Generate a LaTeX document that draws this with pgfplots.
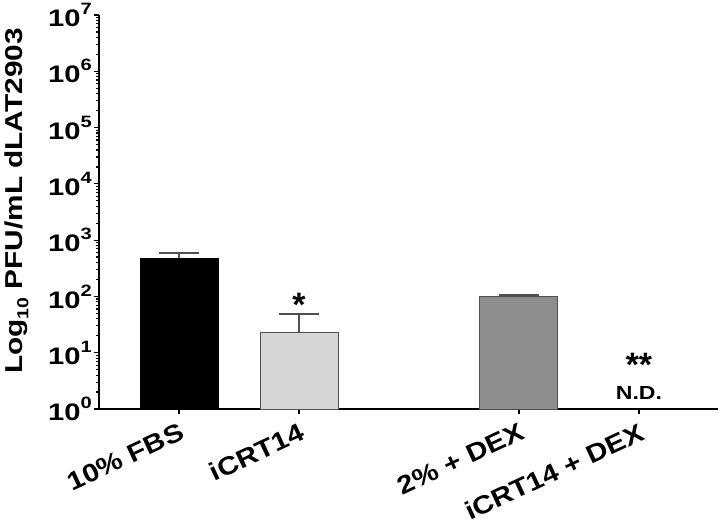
\documentclass[border=0pt]{standalone}
\usepackage{fontspec}
\setmainfont{Liberation Sans}
\newfontfamily\widefont[FakeStretch=1.22]{Liberation Sans}
\newfontfamily\xfont[FakeStretch=1.15]{Liberation Sans}
\usepackage{pgfplots}
\pgfplotsset{compat=1.18}
\newcommand\tl{\widefont\bfseries\fontsize{24}{24}\selectfont}
\newcommand\xl{\xfont\bfseries\fontsize{25.5}{25.5}\selectfont}
\newcommand\sps[1]{\raisebox{0.5em}{\fontsize{16.5}{16.5}\selectfont #1}}
\definecolor{lightbar}{HTML}{D6D6D6}
\definecolor{darkbar}{HTML}{8E8E8E}
\definecolor{edge}{HTML}{505050}
\begin{document}
\begin{tikzpicture}
\begin{axis}[
  name=ax, at={(0,0)}, anchor=south west,
  scale only axis, width=619bp, height=394bp,
  ymode=log, ymin=1, ymax=1e7,
  xmin=-0.6667, xmax=4.4917,
  axis lines*=left,
  axis line style={line width=1.6bp, black},
  xtick={0,1,2.8333,3.8333},
  xticklabels={10\% FBS, iCRT14, 2\% + DEX, iCRT14 + DEX},
  x tick label style={rotate=25, anchor=north east, font=\xl, inner sep=1bp, yshift=-6bp, xshift=-3bp},
  ytick={1,10,100,1000,1e4,1e5,1e6,1e7},
  yticklabels={10\sps{0},10\sps{1},10\sps{2},10\sps{3},10\sps{4},10\sps{5},10\sps{6},10\sps{7}},
  y tick label style={font=\tl, inner sep=2bp},
  tick align=outside, major tick length=5bp, minor tick length=3bp,
  tick style={line width=1.2bp, black},
  ybar, bar width=78bp, bar shift=0pt,
  clip=false,
]
\addplot[fill=black, draw=black, line width=1bp,
  error bars/.cd, y dir=plus, y explicit,
  error bar style={line width=1.6bp, edge},
  error mark options={line width=1.6bp, edge, mark size=20bp, rotate=90}]
  coordinates {(0,480) +- (0,110)};
\addplot[fill=lightbar, draw=edge, line width=1bp,
  error bars/.cd, y dir=plus, y explicit,
  error bar style={line width=1.6bp, edge},
  error mark options={line width=1.6bp, edge, mark size=20bp, rotate=90}]
  coordinates {(1,23) +- (0,26)};
\addplot[fill=darkbar, draw=edge, line width=1bp,
  error bars/.cd, y dir=plus, y explicit,
  error bar style={line width=1.6bp, edge},
  error mark options={line width=1.6bp, edge, mark size=20bp, rotate=90}]
  coordinates {(2.8333,98) +- (0,7)};
\node[font=\bfseries\fontsize{34}{34}\selectfont] at (axis cs:1,70) {*};
\node[font=\bfseries\fontsize{34}{34}\selectfont] at (axis cs:3.8333,6) {**};
\node[font=\widefont\bfseries\fontsize{19}{19}\selectfont] at (axis cs:3.8333,1.9) {N.D.};
\node[rotate=90, font=\widefont\bfseries\fontsize{24.5}{24.5}\selectfont] at (axis description cs:-0.133,0.528) {Log\raisebox{-0.25em}{\fontsize{16}{16}\selectfont 10} PFU/mL dLAT2903};
\end{axis}
\pgfresetboundingbox
\path (-99bp,-120bp) rectangle (621bp,409bp);
\end{tikzpicture}
\end{document}
